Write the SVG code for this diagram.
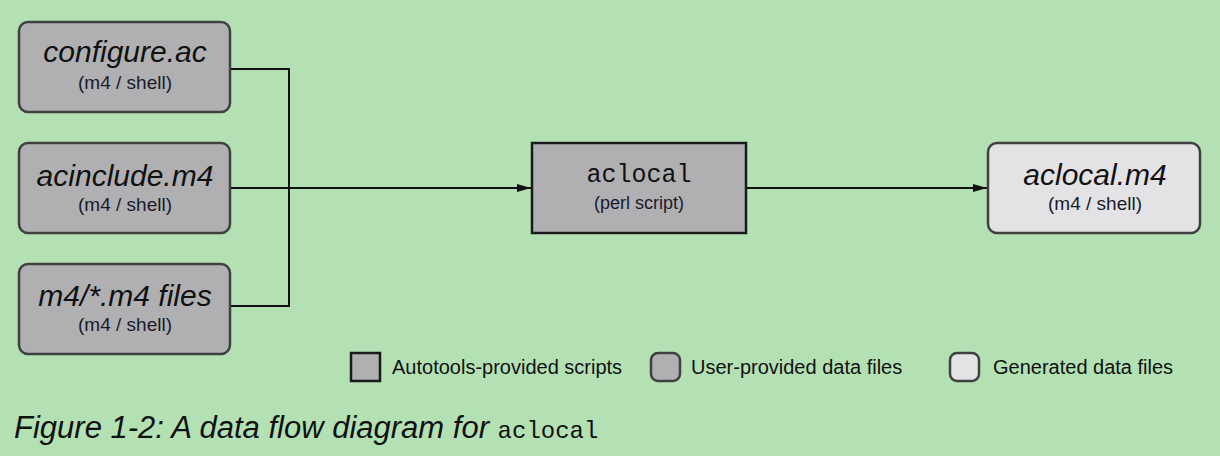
<svg xmlns="http://www.w3.org/2000/svg" width="1220" height="456" viewBox="0 0 1220 456">
<style>
.bg{fill:#b3e1b4}
.user{fill:#b0b0b2;stroke:#404040;stroke-width:2.5}
.tool{fill:#b0b0b2;stroke:#1a1a1a;stroke-width:2.5}
.gen{fill:#e3e3e5;stroke:#404040;stroke-width:2.5}
.t{font-family:"Liberation Sans",Arial,sans-serif;font-style:italic;font-size:30px;fill:#111;text-anchor:middle}
.s{font-family:"Liberation Sans",Arial,sans-serif;font-size:19px;fill:#1a1a2a;text-anchor:middle}
.m{font-family:"Liberation Mono","DejaVu Sans Mono",monospace;font-size:25px;fill:#111;text-anchor:middle}
.l{font-family:"Liberation Sans",Arial,sans-serif;font-size:20px;fill:#111}
.c{font-family:"Liberation Sans",Arial,sans-serif;font-style:italic;font-size:31px;fill:#111}
.cm{font-family:"Liberation Mono","DejaVu Sans Mono",monospace;font-size:24px;font-style:normal;fill:#111}
.wire{fill:none;stroke:#111;stroke-width:2}
</style>
<defs>
<marker id="arr" viewBox="0 0 14 10" refX="14" refY="5" markerWidth="14" markerHeight="10" markerUnits="userSpaceOnUse" orient="auto">
<path d="M0,1 L14,5 L0,9 z" fill="#111"/>
</marker>
</defs>
<rect class="bg" x="0" y="0" width="1220" height="456"/>
<g id="connectors">
<path class="wire" d="M230,69 H289 V306 H230"/>
<path class="wire" d="M230,188 H531" marker-end="url(#arr)"/>
<path class="wire" d="M746,188 H987" marker-end="url(#arr)"/>
</g>
<g id="configure">
<rect class="user" x="19" y="22" width="211" height="90" rx="9"/>
<text class="t" x="125" y="62">configure.ac</text>
<text class="s" x="125" y="89">(m4 / shell)</text>
</g>
<g id="acinclude">
<rect class="user" x="19" y="143" width="211" height="90" rx="9"/>
<text class="t" x="125" y="186">acinclude.m4</text>
<text class="s" x="125" y="211">(m4 / shell)</text>
</g>
<g id="m4files">
<rect class="user" x="19" y="264" width="211" height="90" rx="9"/>
<text class="t" x="125" y="306">m4/*.m4 files</text>
<text class="s" x="125" y="331">(m4 / shell)</text>
</g>
<g id="aclocal">
<rect class="tool" x="532" y="143" width="214" height="90"/>
<text class="m" x="639" y="182">aclocal</text>
<text class="s" x="639" y="209" style="font-size:18px">(perl script)</text>
</g>
<g id="aclocalm4">
<rect class="gen" x="988" y="143" width="212" height="90" rx="9"/>
<text class="t" x="1095" y="185">aclocal.m4</text>
<text class="s" x="1095" y="210">(m4 / shell)</text>
</g>
<g id="legend">
<rect class="tool" x="351" y="353" width="29" height="28"/>
<text class="l" x="392" y="374">Autotools-provided scripts</text>
<rect class="user" x="651" y="353" width="29" height="28" rx="7"/>
<text class="l" x="691" y="374">User-provided data files</text>
<rect class="gen" x="950" y="353" width="29" height="28" rx="7"/>
<text class="l" x="993" y="374">Generated data files</text>
</g>
<g id="caption">
<text class="c" x="14" y="438">Figure 1-2: A data flow diagram for <tspan class="cm">aclocal</tspan></text>
</g>
</svg>
